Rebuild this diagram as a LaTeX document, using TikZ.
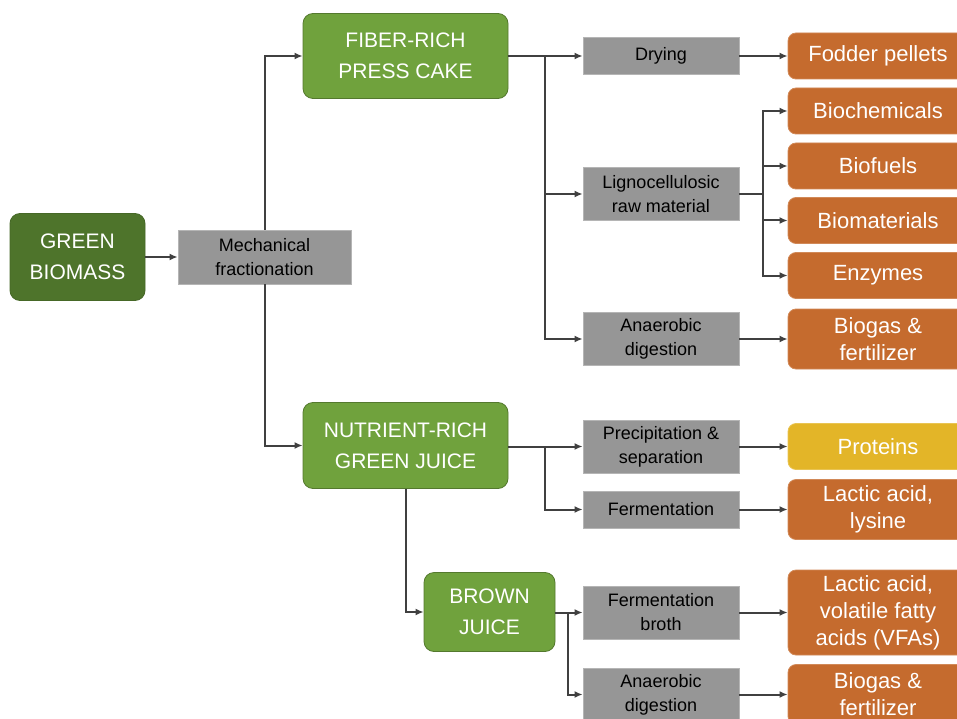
\documentclass[tikz,border=0pt]{standalone}
\usepackage{fontspec}
\setmainfont{Liberation Sans}
\usetikzlibrary{arrows.meta,calc}
\definecolor{dgreen}{HTML}{4E742B}
\definecolor{lgreen}{HTML}{70A23D}
\definecolor{orng}{HTML}{C56B2E}
\definecolor{yell}{HTML}{E3B528}
\definecolor{gbox}{HTML}{969696}
\definecolor{lnc}{HTML}{404040}
\begin{document}
\begin{tikzpicture}[x=1pt,y=-1pt,
  base/.style={rectangle, inner sep=0pt, align=center},
  greenbox/.style={base, rounded corners=10pt, fill=lgreen, draw=lgreen!75!black, line width=0.8pt, text=white, font=\fontsize{21}{31}\selectfont},
  darkbox/.style={greenbox, fill=dgreen, draw=dgreen!90!black},
  graybox/.style={base, fill=gbox, draw=gbox!70!white, line width=0.8pt, text=black, minimum width=156pt, font=\fontsize{18}{24}\selectfont},
  outbox/.style={base, rounded corners=8pt, fill=orng, draw=orng!80!white, line width=0.8pt, text=white, minimum width=180pt, font=\fontsize{22}{27}\selectfont},
  protbox/.style={outbox, fill=yell, draw=yell!80!white},
  arr/.style={draw=lnc, line width=2pt, -{Latex[length=8pt,width=7pt]}},
  ln/.style={draw=lnc, line width=2pt}
]
\useasboundingbox (0,0) rectangle (957,719);

% main column
\node[darkbox, minimum width=135pt, minimum height=87pt] (gb) at (77.5,257) {GREEN\\BIOMASS};
\node[graybox, minimum width=173pt, minimum height=54pt] (mf) at (264.5,257) {Mechanical\\fractionation};
\node[greenbox, minimum width=205pt, minimum height=85pt] (frpc) at (405.5,56) {FIBER-RICH\\PRESS CAKE};
\node[greenbox, minimum width=205pt, minimum height=86pt] (nrgj) at (405.5,445.5) {NUTRIENT-RICH\\GREEN JUICE};
\node[greenbox, minimum width=131pt, minimum height=79pt] (bj) at (489.5,612) {BROWN\\JUICE};

% gray process boxes
\node[graybox, minimum height=37pt] (dry) at (661,56) {Drying};
\node[graybox, minimum height=53pt] (lig) at (661,194) {Lignocellulosic\\raw material};
\node[graybox, minimum height=53pt] (ad1) at (661,339) {Anaerobic\\digestion};
\node[graybox, minimum height=53pt] (pre) at (661,446.5) {Precipitation \&\\separation};
\node[graybox, minimum height=37pt] (fer) at (661,509.5) {Fermentation};
\node[graybox, minimum height=53pt] (fb) at (661,612.5) {Fermentation\\broth};
\node[graybox, minimum height=53pt] (ad2) at (661,694.5) {Anaerobic\\digestion};

% outputs
\node[outbox, minimum height=46pt] (fod) at (878,56) {Fodder pellets};
\node[outbox, minimum height=46pt] (bch) at (878,111) {Biochemicals};
\node[outbox, minimum height=46pt] (bfu) at (878,166) {Biofuels};
\node[outbox, minimum height=46pt] (bma) at (878,220.5) {Biomaterials};
\node[outbox, minimum height=46pt] (enz) at (878,275.5) {Enzymes};
\node[outbox, minimum height=60pt] (bg1) at (878,339) {Biogas \&\\fertilizer};
\node[protbox, minimum height=46pt] (pro) at (878,446.5) {Proteins};
\node[outbox, minimum height=60pt] (lal) at (878,509.5) {Lactic acid,\\lysine};
\node[outbox, minimum height=85pt] (vfa) at (878,612.5) {Lactic acid,\\volatile fatty\\acids (VFAs)};
\node[outbox, minimum height=60pt] (bg2) at (878,694.5) {Biogas \&\\fertilizer};

% junction coordinates
\coordinate (j1) at (545,56);
\coordinate (j2) at (763,194);
\coordinate (j3) at (545,446.5);
\coordinate (j4) at (568,612.5);

% connectors
\draw[arr] (gb) -- (mf);
\draw[arr] (mf.north) |- (frpc.west);
\draw[arr] (mf.south) |- (nrgj.west);

\draw[arr] (frpc.east) -- (dry.west);
\draw[arr] (j1) |- (lig.west);
\draw[arr] (j1) |- (ad1.west);

\draw[ln] (lig.east) -- (j2);
\draw[arr] (j2) |- (bch.west);
\draw[arr] (j2) |- (bfu.west);
\draw[arr] (j2) |- (bma.west);
\draw[arr] (j2) |- (enz.west);

\draw[arr] (dry.east) -- (fod.west);
\draw[arr] (ad1.east) -- (bg1.west);

\draw[arr] (nrgj.east |- pre.west) -- (pre.west);
\draw[arr] (j3) |- (fer.west);
\draw[arr] (pre.east) -- (pro.west);
\draw[arr] (fer.east) -- (lal.west);

\draw[arr] (nrgj.south) |- (bj.west);
\draw[arr] (bj.east |- fb.west) -- (fb.west);
\draw[arr] (j4) |- (ad2.west);
\draw[arr] (fb.east) -- (vfa.west);
\draw[arr] (ad2.east) -- (bg2.west);
\end{tikzpicture}
\end{document}
